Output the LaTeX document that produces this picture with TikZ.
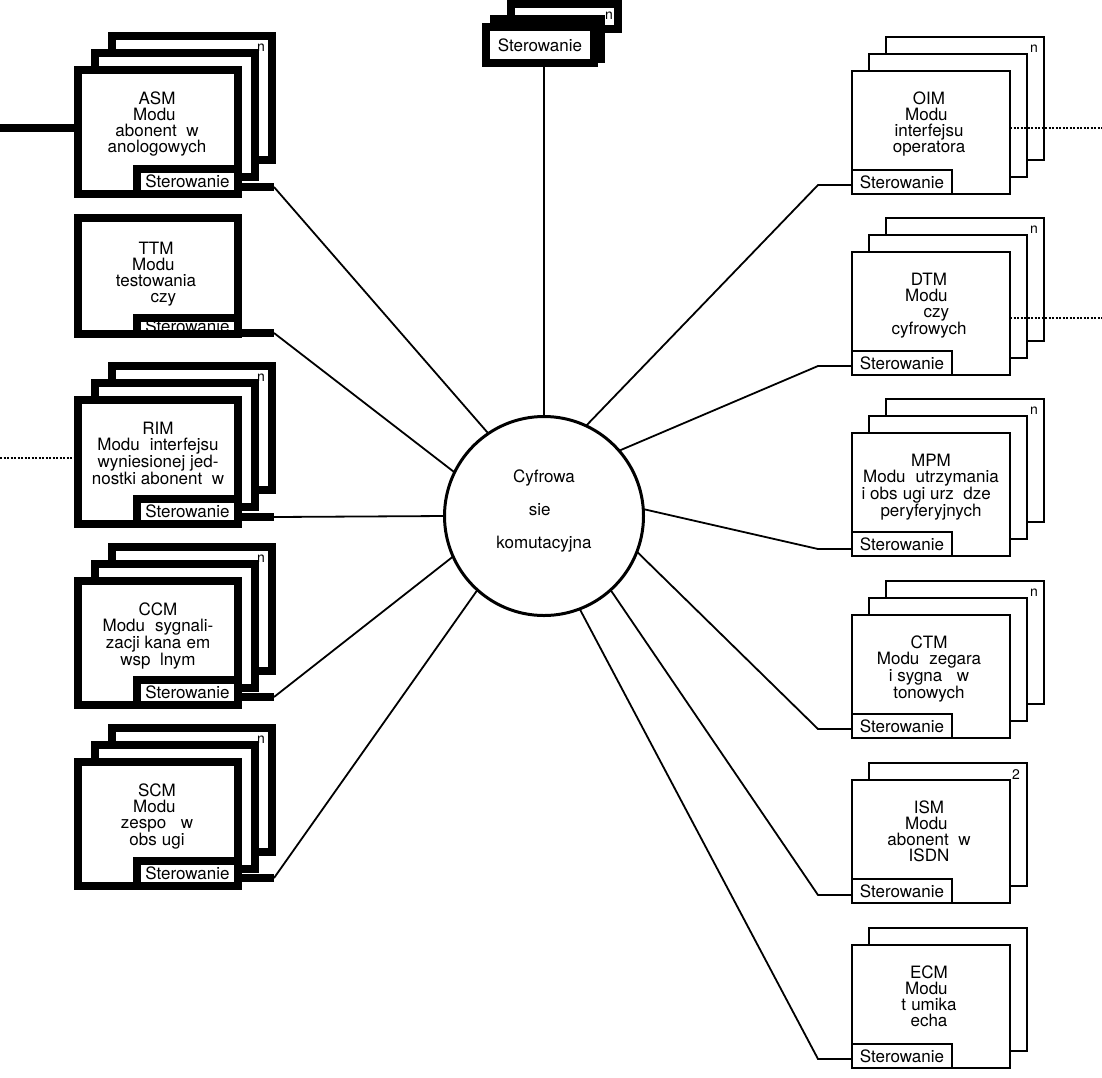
\documentclass[tikz,border=0pt]{standalone}
\usepackage{fontspec}
\setmainfont{TeX Gyre Heros}
\begin{document}
\begin{tikzpicture}[x=1pt,y=-1pt,
    heavybox/.style={draw,line width=8.5pt,fill=white,inner sep=0pt,outer sep=0pt},
    lightbox/.style={draw,line width=2pt,fill=white,inner sep=0pt,outer sep=0pt},
    leftmod/.style={heavybox,minimum width=160,minimum height=124,anchor=north west},
    rightmod/.style={lightbox,minimum width=158,minimum height=123,anchor=north west},
    leftster/.style={heavybox,minimum width=101,minimum height=25,anchor=south east,font=\fontsize{17}{20}\selectfont},
    rightster/.style={lightbox,minimum width=100,minimum height=24,anchor=south west,font=\fontsize{17}{20}\selectfont},
    modtext/.style={align=center,anchor=north,inner sep=0pt,font=\fontsize{17}{15.8}\selectfont},
    stackno/.style={anchor=north east,inner sep=0pt,font=\fontsize{14}{16}\selectfont},
    heavybar/.style={line width=8.5pt},
    wire/.style={line width=1.8pt},
    dotwire/.style={line width=1.2pt,dash pattern=on 2pt off 1.5pt}]

  \useasboundingbox (0,0) rectangle (1102,1077);

  \node[draw,circle,line width=3pt,minimum size=199,inner sep=0pt,outer sep=0pt] (core) at (544,516) {};
  \node[modtext,font=\fontsize{17}{33}\selectfont] (core-txt) at (544,470) {Cyfrowa\\sie\phantom{ć}\\komutacyjna};

  \draw[heavybox] (511,4) rectangle (618,29);
  \draw[heavybox] (494,19) rectangle (601,59);
  \node[heavybox,minimum width=108,minimum height=36,anchor=north west,font=\fontsize{17}{20}\selectfont] (ster-top) at (486,27) {Sterowanie};
  \node[stackno] (top-n) at (613,12) {n};
  \draw[wire] (ster-top.south -| core.north) -- (core.north);

  \draw[heavybox] (112,36) rectangle +(160,124);
  \draw[heavybox] (95,53) rectangle +(160,124);
  \node[leftmod] (asm) at (78,70) {};
  \node[leftster] (asm-ster) at (asm.south east) {Sterowanie};
  \node[modtext] (asm-txt) at (157,92) {ASM\\Modu\phantom{ł}\\abonent\phantom{ó}w\\anologowych};
  \node[stackno] (asm-n) at (265,44) {n};
  \coordinate (asm-in) at (0,128);
  \draw[heavybar] (asm-in) -- (asm-in -| asm.west);
  \coordinate (asm-end) at (274,187);
  \draw[heavybar] (asm-end -| asm.east) -- (asm-end);
  \draw[wire] (asm-end) -- (core.124.5);

  \node[leftmod,minimum height=116] (ttm) at (78,218) {};
  \node[leftster,minimum height=16] (ttm-ster) at (ttm.south east) {Sterowanie};
  \node[modtext] (ttm-txt) at (156,242) {TTM\\Modu\phantom{ł}\\testowania\\\phantom{łą}czy};
  \coordinate (ttm-end) at (274,333);
  \draw[heavybar] (ttm-end -| ttm.east) -- (ttm-end);
  \draw[wire] (ttm-end) -- (core.154.7);

  \draw[heavybox] (112,366) rectangle +(160,124);
  \draw[heavybox] (95,383) rectangle +(160,124);
  \node[leftmod] (rim) at (78,400) {};
  \node[leftster] (rim-ster) at (rim.south east) {Sterowanie};
  \node[modtext] (rim-txt) at (158,422) {RIM\\Modu\phantom{ł} interfejsu\\wyniesionej jed-\\nostki abonent\phantom{ó}w};
  \node[stackno] (rim-n) at (265,374) {n};
  \coordinate (rim-in) at (0,458);
  \draw[dotwire] (rim-in) -- (rim-in -| rim.west);
  \coordinate (rim-end) at (274,517);
  \draw[heavybar] (rim-end -| rim.east) -- (rim-end);
  \draw[wire] (rim-end) -- (core.180);

  \draw[heavybox] (112,547) rectangle +(160,124);
  \draw[heavybox] (95,564) rectangle +(160,124);
  \node[leftmod] (ccm) at (78,581) {};
  \node[leftster] (ccm-ster) at (ccm.south east) {Sterowanie};
  \node[modtext] (ccm-txt) at (158,603) {CCM\\Modu\phantom{ł} sygnali-\\zacji kana\phantom{ł}em\\wsp\phantom{ó}lnym};
  \node[stackno] (ccm-n) at (265,555) {n};
  \coordinate (ccm-end) at (274,697);
  \draw[heavybar] (ccm-end -| ccm.east) -- (ccm-end);
  \draw[wire] (ccm-end) -- (core.204.5);

  \draw[heavybox] (112,728) rectangle +(160,124);
  \draw[heavybox] (95,745) rectangle +(160,124);
  \node[leftmod] (scm) at (78,762) {};
  \node[leftster] (scm-ster) at (scm.south east) {Sterowanie};
  \node[modtext] (scm-txt) at (157,784) {SCM\\Modu\phantom{ł}\\zespo\phantom{łó}w\\obs\phantom{ł}ugi};
  \node[stackno] (scm-n) at (265,736) {n};
  \coordinate (scm-end) at (274,878);
  \draw[heavybar] (scm-end -| scm.east) -- (scm-end);
  \draw[wire] (scm-end) -- (core.228.6);

  \draw[lightbox] (886,37) rectangle +(158,123);
  \draw[lightbox] (869,54) rectangle +(158,123);
  \node[rightmod] (oim) at (852,71) {};
  \node[rightster] (oim-ster) at (oim.south west) {Sterowanie};
  \node[modtext] (oim-txt) at (929,92) {OIM\\Modu\phantom{ł}\\interfejsu\\operatora};
  \node[stackno] (oim-n) at (1038,45) {n};
  \coordinate (oim-out) at (1102,128);
  \draw[dotwire] (oim-out -| oim.east) -- (oim-out);
  \coordinate (oim-bend) at (818,185);
  \draw[wire] (oim-bend -| oim.west) -- (oim-bend) -- (core.65.2);

  \draw[lightbox] (886,218) rectangle +(158,123);
  \draw[lightbox] (869,235) rectangle +(158,123);
  \node[rightmod] (dtm) at (852,252) {};
  \node[rightster] (dtm-ster) at (dtm.south west) {Sterowanie};
  \node[modtext] (dtm-txt) at (929,273) {DTM\\Modu\phantom{ł}\\\phantom{łą}czy\\cyfrowych};
  \node[stackno] (dtm-n) at (1038,226) {n};
  \coordinate (dtm-out) at (1102,318);
  \draw[dotwire] (dtm-out -| dtm.east) -- (dtm-out);
  \coordinate (dtm-bend) at (818,366);
  \draw[wire] (dtm-bend -| dtm.west) -- (dtm-bend) -- (core.41);

  \draw[lightbox] (886,399) rectangle +(158,123);
  \draw[lightbox] (869,416) rectangle +(158,123);
  \node[rightmod] (mpm) at (852,433) {};
  \node[rightster] (mpm-ster) at (mpm.south west) {Sterowanie};
  \node[modtext] (mpm-txt) at (931,454) {MPM\\Modu\phantom{ł} utrzymania\\i obs\phantom{ł}ugi urz\phantom{ą}dze\phantom{ń}\\peryferyjnych};
  \node[stackno] (mpm-n) at (1038,407) {n};
  \coordinate (mpm-bend) at (818,549);
  \draw[wire] (mpm-bend -| mpm.west) -- (mpm-bend) -- (core.4.5);

  \draw[lightbox] (886,581) rectangle +(158,123);
  \draw[lightbox] (869,598) rectangle +(158,123);
  \node[rightmod] (ctm) at (852,615) {};
  \node[rightster] (ctm-ster) at (ctm.south west) {Sterowanie};
  \node[modtext] (ctm-txt) at (929,636) {CTM\\Modu\phantom{ł} zegara\\i sygna\phantom{łó}w\\tonowych};
  \node[stackno] (ctm-n) at (1038,589) {n};
  \coordinate (ctm-bend) at (818,729);
  \draw[wire] (ctm-bend -| ctm.west) -- (ctm-bend) -- (core.-21.5);

  \draw[lightbox] (869,763) rectangle +(158,123);
  \node[rightmod] (ism) at (852,780) {};
  \node[rightster] (ism-ster) at (ism.south west) {Sterowanie};
  \node[modtext] (ism-txt) at (929,801) {ISM\\Modu\phantom{ł}\\abonent\phantom{ó}w\\ISDN};
  \node[stackno] (ism-n) at (1020,769) {2};
  \coordinate (ism-bend) at (818,895);
  \draw[wire] (ism-bend -| ism.west) -- (ism-bend) -- (core.-48);

  \draw[lightbox] (869,928) rectangle +(158,123);
  \node[rightmod] (ecm) at (852,945) {};
  \node[rightster] (ecm-ster) at (ecm.south west) {Sterowanie};
  \node[modtext] (ecm-txt) at (929,966) {ECM\\Modu\phantom{ł}\\t\phantom{ł}umika\\echa};
  \coordinate (ecm-bend) at (818,1059);
  \draw[wire] (ecm-bend -| ecm.west) -- (ecm-bend) -- (core.-69);
\end{tikzpicture}
\end{document}
